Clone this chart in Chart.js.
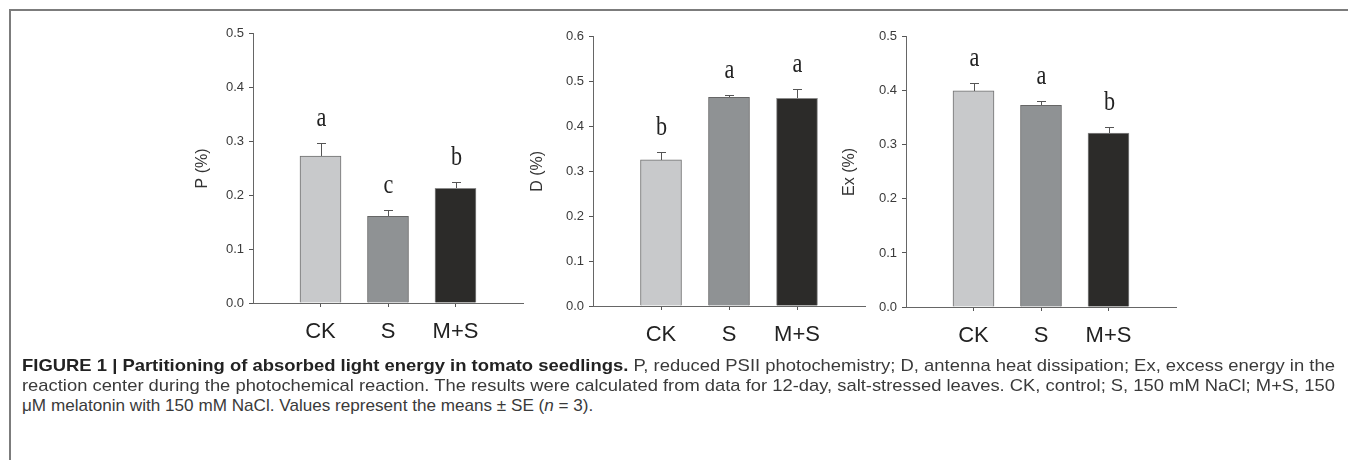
<!DOCTYPE html>
<html><head><meta charset="utf-8">
<script src="https://cdn.jsdelivr.net/npm/chart.js@4/dist/chart.umd.min.js"></script>
<style>
html,body{margin:0;padding:0;background:#fff;width:1348px;height:460px;overflow:hidden;}
#frame{position:absolute;left:9px;top:9px;width:1400px;height:520px;border-top:2px solid #7c7c7c;border-left:2px solid #7c7c7c;}
canvas.cv{position:absolute;}
.cap{position:absolute;left:22px;white-space:nowrap;font-family:"Liberation Sans Narrow","Liberation Sans",Arial,sans-serif;font-size:17px;line-height:20px;color:#3a3a3a;transform-origin:0 0;}
.cap b{color:#222;}
</style></head><body>
<div id="frame"></div>
<canvas id="c1" class="cv"></canvas>
<canvas id="c2" class="cv"></canvas>
<canvas id="c3" class="cv"></canvas>
<div class="cap" id="l1" data-w="1313"><b>FIGURE 1 | Partitioning of absorbed light energy in tomato seedlings.</b> P, reduced PSII photochemistry; D, antenna heat dissipation; Ex, excess energy in the</div>
<div class="cap" id="l2" data-w="1313">reaction center during the photochemical reaction. The results were calculated from data for 12-day, salt-stressed leaves. CK, control; S, 150 mM NaCl; M+S, 150</div>
<div class="cap" id="l3" data-w="571">μM melatonin with 150 mM NaCl. Values represent the means ± SE (<i>n</i> = 3).</div>
<script>
// ---- data ----
const categories = ['CK', 'S', 'M+S'];
const pValues = [0.273, 0.161, 0.213];
const pErrors = [0.024, 0.011, 0.011];
const pLetters = ['a', 'c', 'b'];
const dValues = [0.326, 0.465, 0.463];
const dErrors = [0.018, 0.005, 0.021];
const dLetters = ['b', 'a', 'a'];
const exValues = [0.400, 0.373, 0.322];
const exErrors = [0.015, 0.008, 0.012];
const exLetters = ['a', 'a', 'b'];
const yTitles = ['P (%)', 'D (%)', 'Ex (%)'];
const yMaxes = [0.5, 0.6, 0.5];
const yStep = 0.1;

const barColors = ['#c8c9cb', '#8f9294', '#2c2b29'];
const barBorders = ['#6f6f6f', '#666666', '#8a8a8a'];

// ---- layout (pixels) ----
const panels = [
  {id: 'c1', axisX: 253, titleX: 203, top: 33, zero: 303, right: 523},
  {id: 'c2', axisX: 593, titleX: 538, top: 36, zero: 306, right: 865},
  {id: 'c3', axisX: 906, titleX: 850, top: 36, zero: 307, right: 1176}
];
const series = [
  {values: pValues, errors: pErrors, letters: pLetters},
  {values: dValues, errors: dErrors, letters: dLetters},
  {values: exValues, errors: exErrors, letters: exLetters}
];

// padded label list: empty slot on each side so bars sit at 1/4, 2/4, 3/4 of the axis
const xLabels = [''].concat(categories, ['']);

const errPlugin = {
  id: 'errLetters',
  afterDatasetsDraw(chart) {
    const cfg = chart.options.plugins.errLetters;
    const ctx = chart.ctx;
    const ys = chart.scales.y;
    const meta = chart.getDatasetMeta(0);
    cfg.values.forEach((v, i) => {
      const bar = meta.data[i + 1];
      const topPx = Math.round(ys.getPixelForValue(v + cfg.errors[i]));
      const cx = Math.round(bar.x) + 0.5;
      ctx.save();
      ctx.strokeStyle = '#555';
      ctx.lineWidth = 1;
      ctx.beginPath();
      ctx.moveTo(cx, Math.round(bar.y));
      ctx.lineTo(cx, topPx + 0.5);
      ctx.moveTo(cx - 4.5, topPx + 0.5);
      ctx.lineTo(cx + 4.5, topPx + 0.5);
      ctx.stroke();
      ctx.fillStyle = '#222';
      ctx.font = '27px "Liberation Serif", "Times New Roman", serif';
      ctx.textAlign = 'center';
      ctx.textBaseline = 'alphabetic';
      ctx.translate(cx, topPx - 17);
      ctx.scale(0.82, 1);
      ctx.fillText(cfg.letters[i], 0, 0);
      ctx.restore();
    });
  }
};

const PAD_TOP = 12, X_AXIS_H = 50, TITLE_FONT = 16, X_TICK_PAD = 12;

panels.forEach((p, k) => {
  const s = series[k];
  const cv = document.getElementById(p.id);
  const left = Math.round(p.titleX - TITLE_FONT * 1.2 / 2);
  const top = p.top - PAD_TOP;
  // Chart.js reserves the x tick padding to the right of the last (empty) tick
  const w = p.right - left + X_TICK_PAD;
  const h = p.zero - top + X_AXIS_H;
  cv.style.left = left + 'px';
  cv.style.top = top + 'px';
  cv.style.width = w + 'px';
  cv.style.height = h + 'px';
  cv.width = w; cv.height = h;
  const yWidth = p.axisX - left;
  const tickCol = c => (xLabels[c.index] === '' ? 'rgba(0,0,0,0)' : '#555');
  new Chart(cv, {
    type: 'bar',
    data: {
      labels: xLabels,
      datasets: [{
        data: [null].concat(s.values, [null]),
        backgroundColor: [null].concat(barColors, [null]),
        borderColor: [null].concat(barBorders, [null]),
        borderWidth: 1,
        borderSkipped: 'bottom',
        barThickness: 41
      }]
    },
    options: {
      responsive: false,
      animation: false,
      events: [],
      layout: {padding: {top: PAD_TOP, right: 0, bottom: 0, left: 0}},
      plugins: {
        legend: {display: false},
        tooltip: {enabled: false},
        errLetters: {values: s.values, errors: s.errors, letters: s.letters}
      },
      scales: {
        x: {
          type: 'category',
          offset: false,
          afterFit: sc => { sc.height = X_AXIS_H; },
          ticks: {
            font: {family: '"Liberation Sans", Arial, sans-serif', size: 22},
            color: '#222',
            padding: X_TICK_PAD,
            maxRotation: 0,
            autoSkip: false
          },
          grid: {display: true, offset: false, drawOnChartArea: false, drawTicks: true, tickLength: 4, color: tickCol},
          border: {display: true, color: '#666', width: 1}
        },
        y: {
          min: 0, max: yMaxes[k],
          afterFit: sc => { sc.width = yWidth; },
          ticks: {
            stepSize: yStep,
            callback: v => v.toFixed(1),
            font: {family: '"Liberation Sans", Arial, sans-serif', size: 13},
            color: '#3a3a3a',
            padding: 5
          },
          grid: {display: true, drawOnChartArea: false, drawTicks: true, tickLength: 4, color: '#555'},
          border: {display: true, color: '#666', width: 1},
          title: {
            display: true,
            text: yTitles[k],
            font: {family: '"Liberation Sans", Arial, sans-serif', size: TITLE_FONT},
            color: '#333',
            padding: 0
          }
        }
      }
    },
    plugins: [errPlugin]
  });
});

// caption fitting
const capTops = [356, 376, 396];
['l1', 'l2', 'l3'].forEach((id, i) => {
  const el = document.getElementById(id);
  el.style.top = capTops[i] + 'px';
  const target = +el.dataset.w;
  const wNat = el.scrollWidth;
  el.style.transform = 'scaleX(' + (target / wNat) + ')';
});
</script>
</body></html>
